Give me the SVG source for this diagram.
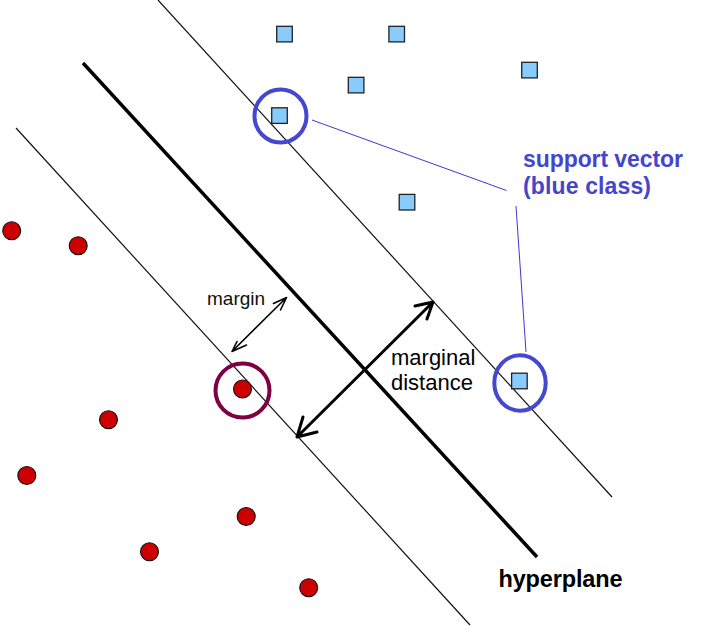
<svg xmlns="http://www.w3.org/2000/svg" width="712" height="626" viewBox="0 0 712 626">
<style>
.sq{fill:#88ccff;stroke:#222;stroke-width:1.3}
.dot{fill:#cc0000;stroke:#111;stroke-width:1.1}
.sv{fill:none;stroke:#4348cf;stroke-width:4}
.svr{fill:none;stroke:#7d0042;stroke-width:4}
.thin{stroke:#111;stroke-width:1.2;fill:none}
.hyp{stroke:#000;stroke-width:3.5;fill:none}
.arr{stroke:#000;fill:none;stroke-linecap:round;stroke-linejoin:round}
.blue{stroke:#3a3ad0;stroke-width:1;fill:none}
.t{font-family:"Liberation Sans",Arial,sans-serif}
</style>
<rect width="712" height="626" fill="#fff"/>
<g id="connectors">
<line class="thin" x1="158" y1="0" x2="612" y2="497"/>
<line class="thin" x1="16" y1="128" x2="470" y2="625"/>
<line class="hyp" x1="83" y1="63" x2="537" y2="557"/>
<path class="arr" stroke-width="3" d="M297,437 L433,302 M415,306 L433,302 L427,319 M303,417 L297,437 L317,432"/>
<path class="arr" stroke-width="1.6" d="M232,351.5 L286.5,297.5 M273.5,303.5 L286.5,297.5 L280.5,310 M237,341.5 L232,351.5 L246.5,345"/>
<line class="blue" x1="312" y1="120" x2="506.5" y2="190.5"/>
<line class="blue" x1="516" y1="206" x2="526" y2="352"/>
</g>
<g id="blue-1"><rect class="sq" x="276.7" y="26.3" width="15.6" height="15.6"/></g>
<g id="blue-2"><rect class="sq" x="388.9" y="26.3" width="15.6" height="15.6"/></g>
<g id="blue-3"><rect class="sq" x="521.7" y="62.3" width="15.6" height="15.6"/></g>
<g id="blue-4"><rect class="sq" x="348.3" y="77.3" width="15.6" height="15.6"/></g>
<g id="blue-5"><rect class="sq" x="399.2" y="194.4" width="15.6" height="15.6"/></g>
<g id="blue-sv1"><rect class="sq" x="271.7" y="107.8" width="15.6" height="15.6"/><ellipse class="sv" cx="280.5" cy="116" rx="26" ry="26.5"/></g>
<g id="blue-sv2"><rect class="sq" x="511.6" y="373.2" width="15.6" height="15.6"/><ellipse class="sv" cx="520" cy="383" rx="25.7" ry="27.7"/></g>
<g id="red-1"><circle class="dot" cx="11.7" cy="230.8" r="9"/></g>
<g id="red-2"><circle class="dot" cx="78.2" cy="245.8" r="9"/></g>
<g id="red-3"><circle class="dot" cx="108.5" cy="419.8" r="9"/></g>
<g id="red-4"><circle class="dot" cx="26.8" cy="475.5" r="9"/></g>
<g id="red-5"><circle class="dot" cx="246.2" cy="516.5" r="9"/></g>
<g id="red-6"><circle class="dot" cx="149.5" cy="551.8" r="9"/></g>
<g id="red-7"><circle class="dot" cx="308.7" cy="587.8" r="9"/></g>
<g id="red-sv"><circle class="dot" cx="242.5" cy="389" r="9"/><circle class="svr" cx="242.5" cy="390.5" r="27"/></g>
<g id="labels">
<text class="t" x="207" y="305" font-size="19" fill="#111">margin</text>
<text class="t" x="391" y="365" font-size="22" fill="#000">marginal</text>
<text class="t" x="391" y="390" font-size="22" fill="#000">distance</text>
<text class="t" x="523" y="166.5" font-size="23" font-weight="bold" fill="#4545cc" textLength="160">support vector</text>
<text class="t" x="523" y="193.5" font-size="23" font-weight="bold" fill="#4545cc" textLength="128">(blue class)</text>
<text class="t" x="498.5" y="587" font-size="23.5" font-weight="bold" fill="#000" textLength="124">hyperplane</text>
</g>
</svg>
